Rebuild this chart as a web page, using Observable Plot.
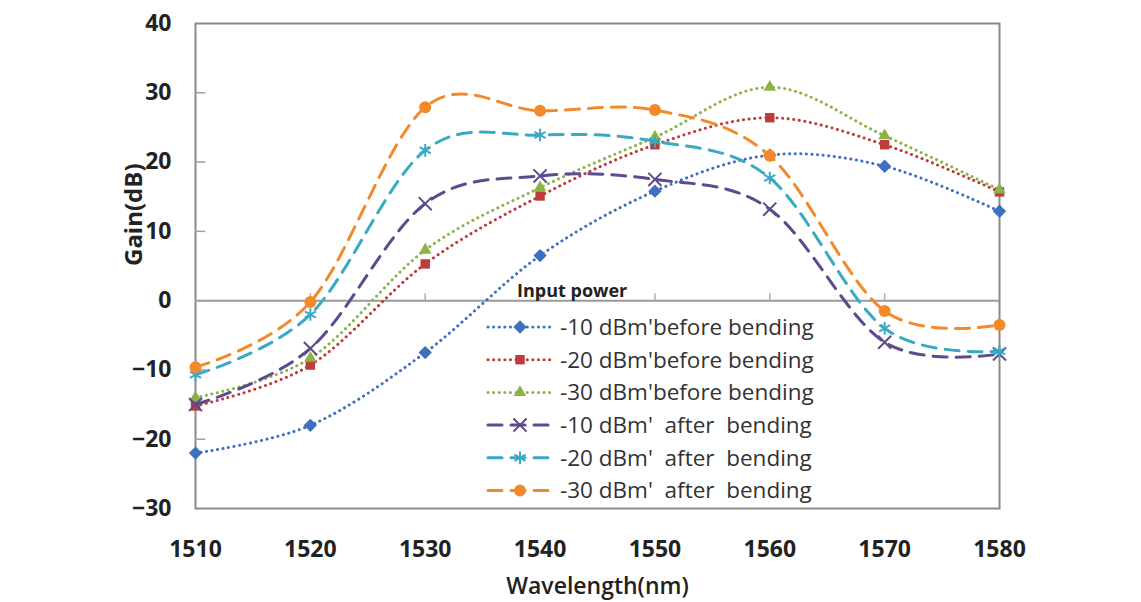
<!DOCTYPE html>
<html><head><meta charset="utf-8">
<script src="https://cdn.jsdelivr.net/npm/d3@7"></script>
<script src="https://cdn.jsdelivr.net/npm/@observablehq/plot@0.6"></script>
<style>
html,body{margin:0;padding:0;background:#fff;}
#wrap{position:relative;width:1141px;height:602px;overflow:hidden;background:#fff;}
#legend{position:absolute;left:0;top:0;pointer-events:none;}
</style></head><body><div id="wrap"></div>
<script>
const wavelengths = [1510, 1520, 1530, 1540, 1550, 1560, 1570, 1580];
const before10 = [-22, -18, -7.5, 6.5, 15.8, 21, 19.4, 12.9];
const before20 = [-15.2, -9.3, 5.3, 15.1, 22.5, 26.4, 22.5, 15.7];
const before30 = [-14, -8.3, 7.3, 16.3, 23.6, 30.8, 23.8, 16];
const after10 = [-15, -6.9, 14, 18, 17.5, 13.2, -6, -7.7];
const after20 = [-10.7, -2, 21.7, 23.9, 23, 17.7, -4, -7.3];
const after30 = [-9.6, -0.2, 27.9, 27.4, 27.5, 20.9, -1.5, -3.5];
const seriesNames = [
  "-10 dBm'before bending",
  "-20 dBm'before bending",
  "-30 dBm'before bending",
  "-10 dBm'  after  bending",
  "-20 dBm'  after  bending",
  "-30 dBm'  after  bending"
];
const seriesValues = [before10, before20, before30, after10, after20, after30];
const yTicks = [-30, -20, -10, 0, 10, 20, 30, 40];
const legendTitle = "Input power";
const xLabel = "Wavelength(nm)";
const yLabel = "Gain(dB)";

// styles
const colors = ["#3f6fbf", "#be3c3a", "#8db348", "#5e4a8e", "#3aa9c4", "#f28a2c"];
const dashes = ["0.1 5.5", "0.1 5.5", "0.1 5.5", "14 9", "14 9", "14 9"];
const widths = [3, 3, 3, 3, 3, 3];
const symbols = ["diamond2", "square2", "triangle2", "times", "asterisk", "circle"];
const symFill = [true, true, true, false, false, true];

const rows = [];
seriesNames.forEach((s, i) => seriesValues[i].forEach((v, j) => rows.push({series: s, idx: i, x: wavelengths[j], y: v})));

const font = "'Open Sans', 'DejaVu Sans', sans-serif";
const marks = [
  Plot.frame({stroke: "#8a8a8a", strokeWidth: 2}),
  Plot.ruleY([0], {stroke: "#9a9a9a", strokeWidth: 2}),
  Plot.ruleX(wavelengths.slice(1, -1), {x: d => d, y1: 0, y2: 1, stroke: "#b0b0b0", strokeWidth: 1.5}),
  Plot.ruleY(yTicks.slice(1, -1), {y: d => d, x1: 1510, x2: 1510.9, stroke: "#a0a0a0", strokeWidth: 1.5}),
  Plot.axisY({ticks: yTicks, tickSize: 0, tickPadding: 24, label: null, fontSize: 23, fontWeight: "bold"}),
  Plot.axisX({ticks: wavelengths, tickSize: 0, tickPadding: 32, tickFormat: d => String(d), label: null, fontSize: 23, fontWeight: "bold"}),
  Plot.text([xLabel], {frameAnchor: "bottom", dy: 85, fontSize: 23, fontWeight: 600, fill: "#222"}),
  Plot.text([yLabel], {frameAnchor: "left", dx: -61, rotate: -90, fontSize: 24, fontWeight: "bold", fill: "#222"})
];
seriesNames.forEach((s, i) => {
  const data = rows.filter(r => r.idx === i);
  marks.push(Plot.line(data, {x: "x", y: "y", curve: "catmull-rom", tension: 0, stroke: colors[i], strokeWidth: widths[i], strokeDasharray: dashes[i], strokeLinecap: "round"}));
  marks.push(Plot.dot(data, {x: "x", y: "y", symbol: symbols[i], r: 6,
    fill: symFill[i] ? colors[i] : "none", stroke: colors[i], strokeWidth: symFill[i] ? 0 : 2}));
});

const chart = Plot.plot({
  width: 1141, height: 602,
  marginLeft: 195, marginRight: 142, marginTop: 23, marginBottom: 94,
  x: {domain: [1510, 1580]},
  y: {domain: [-30, 40]},
  style: {fontFamily: font, fontSize: "20px", color: "#222", background: "#fff"},
  marks
});
document.getElementById("wrap").appendChild(chart);

// Legend overlay
const lg = d3.select("#wrap").append("svg").attr("id", "legend").attr("width", 1141).attr("height", 602);
lg.append("text").attr("x", 517).attr("y", 297).text(legendTitle)
  .attr("font-family", font).attr("font-size", 18).attr("font-weight", "bold").attr("fill", "#222");
const symMap = {diamond2: d3.symbolDiamond2, square2: d3.symbolSquare2, triangle2: d3.symbolTriangle2, times: d3.symbolTimes, asterisk: d3.symbolAsterisk, circle: d3.symbolCircle};
seriesNames.forEach((s, i) => {
  const yy = 327 + i * 32.7;
  const g = lg.append("g");
  g.append("line").attr("x1", 488).attr("x2", 553).attr("y1", yy).attr("y2", yy)
    .attr("stroke", colors[i]).attr("stroke-width", 3).attr("stroke-dasharray", dashes[i]).attr("stroke-linecap", "round");
  g.append("path").attr("transform", `translate(520,${yy})`)
    .attr("d", d3.symbol(symMap[symbols[i]], 113)())
    .attr("fill", symFill[i] ? colors[i] : "none").attr("stroke", symFill[i] ? "none" : colors[i]).attr("stroke-width", 2);
  g.append("text").attr("x", 560).attr("y", yy).attr("dy", "0.35em").text(s)
    .attr("xml:space", "preserve").style("white-space", "pre")
    .attr("font-family", font).attr("font-size", 22.5).attr("fill", "#333");
});
</script></body></html>
